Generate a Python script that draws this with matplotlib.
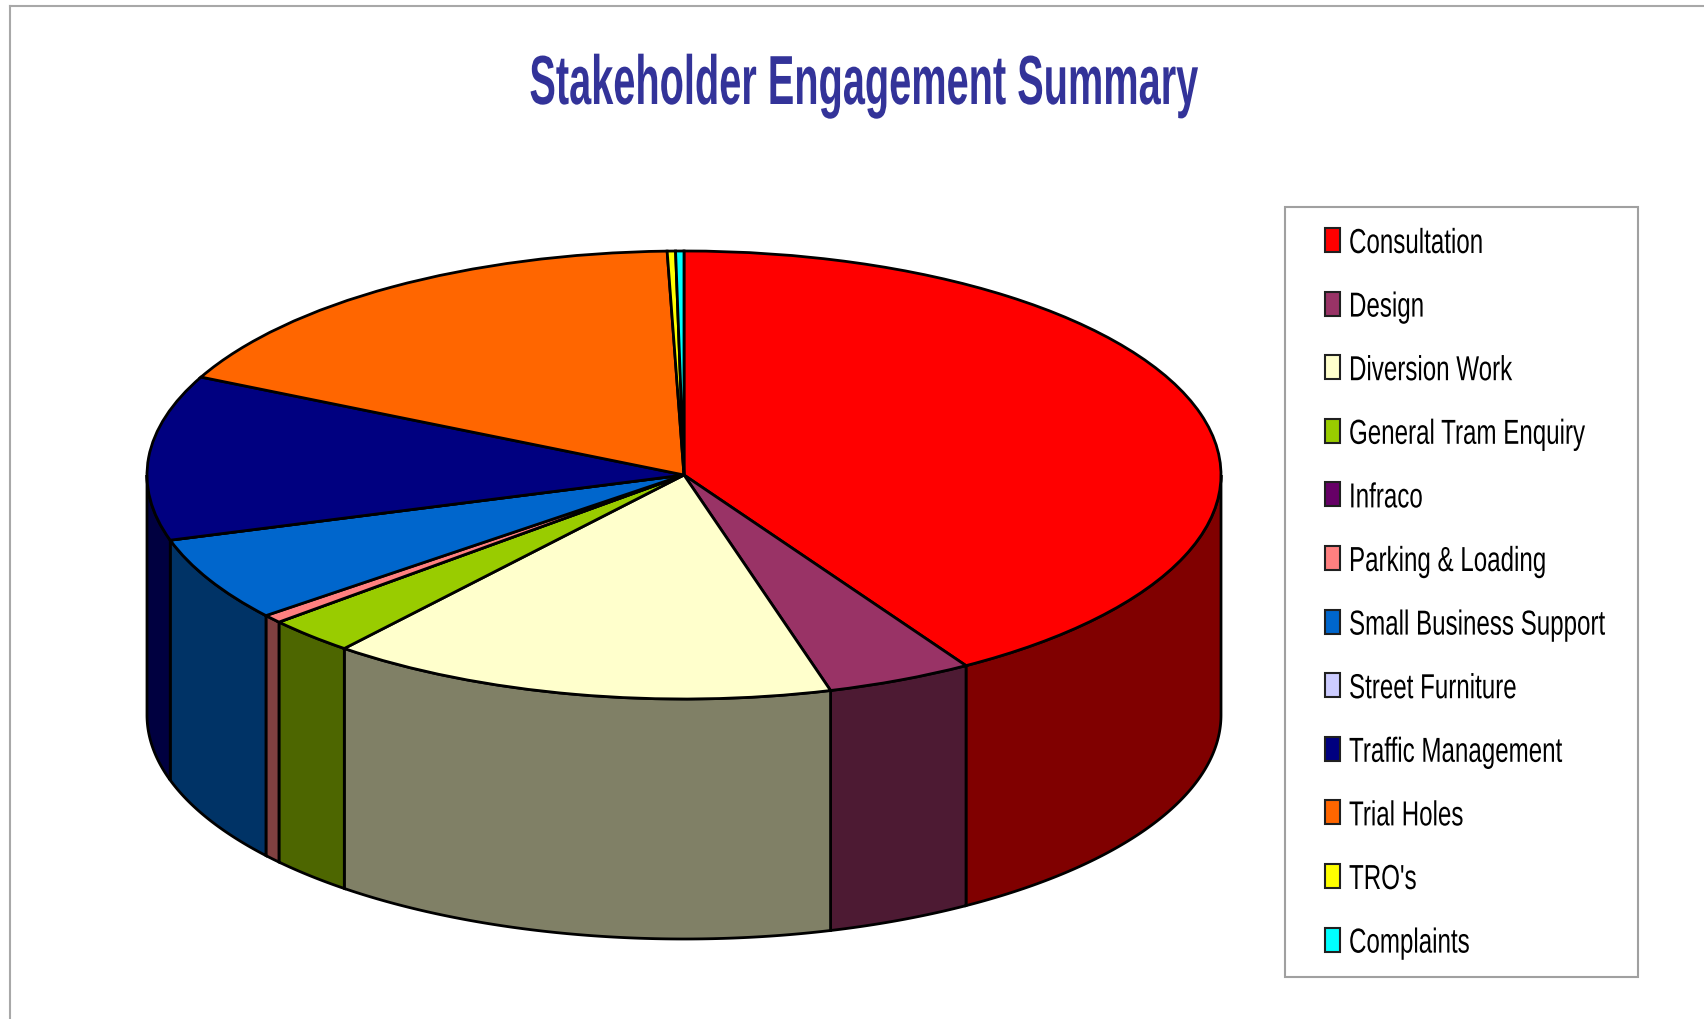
import numpy as np
import matplotlib
matplotlib.use('Agg')
import matplotlib.pyplot as plt
from matplotlib.colors import to_rgb
from matplotlib.lines import Line2D
from matplotlib.patches import Rectangle
from matplotlib.patheffects import AbstractPathEffect
from matplotlib.transforms import Affine2D

labels = ['Consultation', 'Design', 'Diversion Work', 'General Tram Enquiry', 'Infraco',
          'Parking & Loading', 'Small Business Support', 'Street Furniture',
          'Traffic Management', 'Trial Holes', "TRO's", 'Complaints']
values = [41.2, 4.4, 15.3, 2.7, 0.0, 0.6, 6.1, 0.0, 11.9, 17.3, 0.25, 0.25]
colors = ['#FF0000', '#993366', '#FFFFCC', '#99CC00', '#660066', '#FF8080',
          '#0066CC', '#CCCCFF', '#000080', '#FF6600', '#FFFF00', '#00FFFF']

W, H = 1704, 1019
cx, cy, rx, ry, depth = 684, 475, 537, 224, 240
FONT = 'Liberation Sans'


class Squeeze(AbstractPathEffect):
    # no condensed font installed: narrow the glyphs, moving pixel column x0 to x1
    def __init__(self, sx, x0, x1):
        super().__init__()
        self.squeeze = Affine2D().translate(-x0, 0).scale(sx, 1).translate(x1, 0)

    def draw_path(self, renderer, gc, tpath, affine, rgbFace=None):
        renderer.draw_path(gc, tpath, affine + self.squeeze, rgbFace)


def px(x, y):
    return x / W, 1 - y / H


fig = plt.figure(figsize=(W / 100, H / 100), dpi=100, facecolor='white')
ax = fig.add_axes([0, 0, 1, 1])

wedges, _ = ax.pie(values, colors=colors, startangle=90, counterclock=False,
                   wedgeprops={'edgecolor': 'black', 'linewidth': 2})
ax.set_aspect('auto')
ax.set_xlim(-cx / rx, (W - cx) / rx)
ax.set_ylim(-(H - cy) / ry, cy / ry)

# side wall, front half only (90-270 degrees clockwise from the top)
d = depth / ry
edges = np.concatenate([[0], np.cumsum(values)]) / sum(values) * 360
for i in range(len(values)):
    a0, a1 = max(edges[i], 90), min(edges[i + 1], 270)
    if a1 <= a0:
        continue
    t = np.radians(np.linspace(a0, a1, 100))
    x, y = np.sin(t), np.cos(t)
    ax.fill(np.r_[x, x[::-1]], np.r_[y, y[::-1] - d],
            color=tuple(c * 0.5 for c in to_rgb(colors[i])),
            ec='black', lw=2, zorder=0.5)

fig.text(*px(864, 104), 'Stakeholder Engagement Summary', color='#333399',
         fontsize=50, fontweight='bold', family=FONT, ha='center', va='baseline',
         path_effects=[Squeeze(0.572, 864, 864)])

# legend box, drawn by hand because the squeezed labels would stretch ax.legend
fig.add_artist(Rectangle(px(1285, 977), 353 / W, 770 / H, transform=fig.transFigure,
                         fc='white', ec='#a0a0a0', lw=1.5))
for i, name in enumerate(labels):
    yc = 240 + 63.6 * i
    fig.add_artist(Rectangle(px(1325, yc + 12), 15 / W, 24 / H, transform=fig.transFigure,
                             fc=colors[i], ec='#202020', lw=1.5))
    fig.text(*px(1300, yc), name, color='black', fontsize=25, family=FONT,
             ha='left', va='center_baseline', path_effects=[Squeeze(0.695, 1300, 1349)])

# outer picture frame
fig.add_artist(Line2D([10 / W, 10 / W], [0, 1 - 6 / H], color='#a8a8a8', lw=1.5))
fig.add_artist(Line2D([10 / W, 1], [1 - 6 / H, 1 - 6 / H], color='#a8a8a8', lw=1.5))

fig.savefig('out.png', dpi=100)
